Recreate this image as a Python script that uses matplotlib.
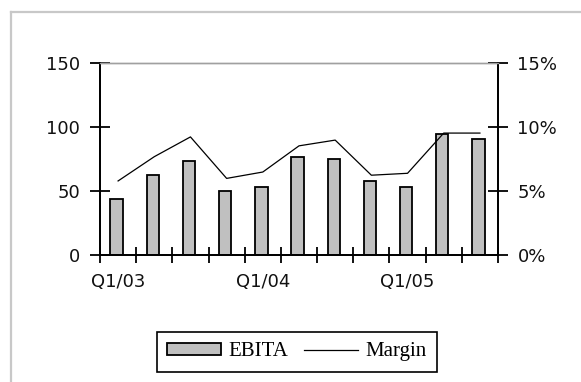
import matplotlib
matplotlib.use("Agg")
import matplotlib.pyplot as plt
from matplotlib.lines import Line2D
import numpy as np

quarters = ["Q1/03", "Q2/03", "Q3/03", "Q4/03", "Q1/04", "Q2/04", "Q3/04", "Q4/04",
            "Q1/05", "Q2/05", "Q3/05"]
ebita = [44, 63, 74, 50, 53, 77, 75, 58, 53, 95, 91]
margin_pct = [5.8, 7.7, 9.25, 6.0, 6.5, 8.55, 9.0, 6.25, 6.4, 9.55, 9.55]
left_ticks = [0, 50, 100, 150]
right_ticks = [0, 5, 10, 15]
label_quarters = ["Q1/03", "Q1/04", "Q1/05"]

W, H = 581, 382
fig = plt.figure(figsize=(W / 100, H / 100), dpi=100)
fig.patch.set_facecolor("white")

# outer frame lines (left and top)
fig.add_artist(Line2D([11 / W, 11 / W], [0, 1 - 12 / H], transform=fig.transFigure,
                      color="#c8c8c8", lw=1.6))
fig.add_artist(Line2D([11 / W, 1], [1 - 12 / H, 1 - 12 / H], transform=fig.transFigure,
                      color="#c8c8c8", lw=1.6))

ax = fig.add_axes([100 / W, 1 - 255 / H, 398 / W, 191.5 / H])
x = np.arange(len(quarters))

bars = ax.bar(x - 0.04, ebita, width=0.34, color="#c0c0c0", edgecolor="black",
              linewidth=1.3, label="EBITA", zorder=2)
ax.set_xlim(-0.5, len(quarters) - 0.5)
ax.set_ylim(0, 150)
ax.set_yticks(left_ticks)
ax.set_yticklabels([str(v) for v in left_ticks])

ax2 = ax.twinx()
line, = ax2.plot(x, margin_pct, color="black", lw=0.9, label="Margin", zorder=3)
ax2.set_ylim(0, 15)
ax2.set_yticks(right_ticks)
ax2.set_yticklabels([f"{v}%" for v in right_ticks])

# category axis: boundary ticks, labels every fourth quarter
ax.set_xticks(np.arange(-0.5, len(quarters), 1.0), minor=True)
ax.set_xticks([quarters.index(q) for q in label_quarters])
ax.set_xticklabels(label_quarters)
ax.tick_params(axis="x", which="major", length=0, pad=13)
ax.tick_params(axis="x", which="minor", direction="inout", length=11, width=1.3)

for t in ax.get_xticklabels() + ax.get_yticklabels() + ax2.get_yticklabels():
    t.set_fontfamily("DejaVu Sans")
    t.set_fontsize(13)
    t.set_color("#111111")

ax.tick_params(axis="y", direction="inout", length=15, width=1.3, pad=7)
ax2.tick_params(axis="y", direction="inout", length=15, width=1.3, pad=6.5)

for a in (ax, ax2):
    a.spines["top"].set_color("#a0a0a0")
    a.spines["top"].set_linewidth(1.0)
    a.spines["left"].set_linewidth(1.3)
    a.spines["right"].set_linewidth(1.3)
    a.spines["bottom"].set_linewidth(1.3)
    a.patch.set_visible(False)

leg = fig.legend(handles=[bars, line], labels=["EBITA", "Margin"], loc="center",
                 bbox_to_anchor=(297 / W, 1 - 351.7 / H), ncol=2, frameon=True,
                 fancybox=False, edgecolor="black", framealpha=1,
                 prop=dict(family="Liberation Serif", size=15),
                 handlelength=2.6, handleheight=0.5, handletextpad=0.35,
                 columnspacing=0.75, borderpad=0.5, borderaxespad=0)
leg.get_frame().set_linewidth(1.2)

fig.savefig("out.png", dpi=100, facecolor="white")
